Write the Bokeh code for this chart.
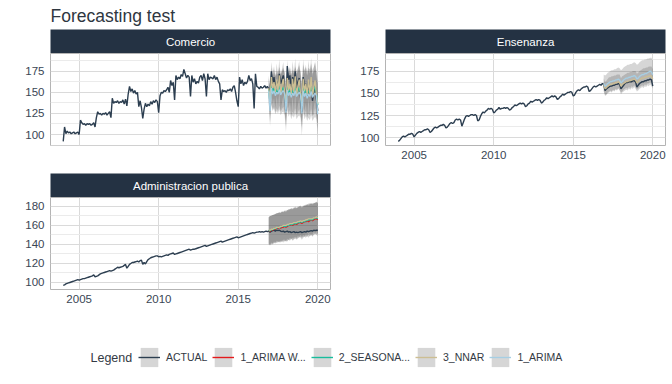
import numpy as np
import pandas as pd
from bokeh.plotting import figure
from bokeh.layouts import column, row
from bokeh.models import Range1d, Label, FixedTicker, Legend, LegendItem
from bokeh.embed import file_html
from bokeh.resources import INLINE

FONT = "Liberation Sans"
TITLE = "Forecasting test"
STRIP_COLOR = "#243243"
TEXT_COLOR = "#3a4654"

# ---------------- data ----------------
DATES = pd.date_range("2004-01-01", "2020-01-01", freq="MS")
FC_START = "2016-12-01"

SERIES_NAMES = ["Comercio", "Ensenanza", "Administracion publica"]
LEGEND_NAMES = ["ACTUAL", "1_ARIMA W...", "2_SEASONA...", "3_NNAR", "1_ARIMA"]
COLORS = {"ACTUAL": "#2c3e50", "1_ARIMA W...": "#e31a1c", "2_SEASONA...": "#18BC9C",
          "3_NNAR": "#CCBE93", "1_ARIMA": "#a6cee3"}

X_TICKS = [2005, 2010, 2015, 2020]
Y_TICKS_COM = [100, 125, 150, 175]
Y_TICKS_ENS = [100, 125, 150, 175]
Y_TICKS_ADM = [100, 120, 140, 160, 180]

COM_ACTUAL = [
    92, 109, 101, 104, 102, 103, 101, 102, 103, 101, 102, 103,
    100, 117, 114, 112, 113, 111, 113, 112, 113, 111, 112, 114,
    109, 120, 127, 124, 125, 123, 125, 124, 126, 123, 125, 127,
    120, 143, 137, 139, 138, 140, 137, 139, 138, 141, 136, 142,
    134, 148, 157, 151, 154, 149, 152, 148, 150, 133, 140, 132,
    119, 130, 137, 133, 136, 134, 139, 136, 140, 138, 141, 139,
    126, 146, 150, 149, 152, 151, 153, 156, 150, 164, 158, 162,
    141, 170, 165, 168, 166, 171, 169, 177, 172, 167, 170, 168,
    145, 170, 162, 166, 160, 163, 161, 168, 170, 164, 172, 166,
    145, 172, 165, 168, 167, 166, 170, 165, 168, 163, 160, 141,
    153, 151, 152, 150, 153, 152, 154, 151, 156, 158, 150, 140,
    133, 168, 160, 165, 158, 162, 160, 163, 170, 164, 166, 160,
    131, 172, 157, 156, 154, 157, 155, 156, 158, 155, 157, 154,
    150, 175, 160, 168, 155, 163, 158, 172, 160, 165, 170, 152,
    128, 181, 165, 170, 150, 168, 160, 175, 155, 162, 167, 145,
    127, 168, 158, 160, 145, 162, 150, 158, 140, 150, 160, 142,
    128]

ENS_ACTUAL = [
    96, 97, 99, 101, 102, 101, 102, 103, 104, 104, 105, 104,
    101, 103, 105, 106, 107, 106, 107, 108, 109, 109, 110, 109,
    106, 107, 109, 111, 112, 111, 112, 113, 114, 114, 115, 114,
    111, 112, 114, 116, 117, 116, 117, 120, 121, 120, 121, 120,
    113, 117, 121, 124, 125, 124, 125, 126, 126, 125, 126, 125,
    119, 120, 124, 127, 129, 128, 130, 131, 133, 132, 133, 132,
    128, 129, 131, 132, 134, 132, 133, 133, 134, 133, 134, 133,
    131, 132, 134, 135, 137, 136, 137, 138, 139, 138, 139, 138,
    135, 136, 138, 139, 141, 140, 141, 142, 143, 142, 143, 142,
    139, 140, 142, 143, 145, 144, 145, 146, 147, 146, 147, 146,
    143, 144, 146, 147, 149, 148, 149, 150, 151, 151, 152, 151,
    147, 148, 151, 153, 154, 153, 155, 156, 157, 157, 158, 157,
    152, 153, 155, 157, 158, 157, 158, 159, 160, 159, 161, 160,
    153, 155, 156, 157, 158, 158, 159, 159, 160, 160, 161, 160,
    155, 157, 159, 161, 162, 162, 163, 163, 163, 164, 164, 163,
    157, 159, 161, 162, 163, 163, 164, 164, 165, 165, 166, 165,
    158]

ADM_ACTUAL = [
    97, 97.5, 98.5, 99, 99.5, 100, 100.5, 101, 101.5, 102, 102.5, 103,
    102.5, 103, 103.5, 104, 104, 104.5, 105, 105.5, 106, 106.5, 107, 108,
    106, 106.5, 107, 108, 109, 109.5, 110, 110.5, 111, 111.5, 112, 112.5,
    112, 112.5, 113, 114, 115, 116, 115.5, 116, 116.5, 117, 118, 119,
    115, 117, 119, 120, 121, 121, 121.5, 122, 122.5, 121.5, 123, 123.5,
    119, 121, 119.5, 122, 124, 125, 126, 126.5, 127, 127.5, 128, 128,
    127, 127.5, 127, 127.5, 128, 128.5, 129, 128.5, 129.5, 130, 130.5, 131,
    129.5, 130, 130.5, 131, 131.5, 132, 132.5, 133, 133.5, 134, 134.5, 135,
    134, 134.5, 135, 135, 135.5, 136, 136.5, 137, 137.5, 138, 138.5, 139,
    138, 138.5, 139, 139.5, 140, 140.5, 141, 141.5, 142, 142.5, 143, 143.5,
    142.5, 143, 143.5, 144, 144.5, 145, 145.5, 146, 146.5, 147, 147.5, 148,
    147, 147.5, 148, 148.5, 149, 149.5, 150, 150.5, 151, 151.5, 152, 152.5,
    152, 152.5, 153, 153, 153.5, 153, 153.5, 153, 153.5, 154, 153.5, 154,
    153, 154, 154.5, 155, 154, 155, 154.5, 155, 154, 153.5, 154, 153,
    153.5, 154, 153, 153.5, 152.5, 153, 153.5, 152.5, 153, 152.5, 153, 153.5,
    152.5, 153, 153.5, 153, 154, 153.5, 154, 154.5, 154, 155, 154.5, 155,
    155]

# forecasts: Dec 2016 .. Jan 2020 (38 months)
COM_SEAS = [154, 136, 158, 150, 155, 148, 153, 151, 157, 150, 153, 156, 150,
            135, 157, 149, 154, 147, 152, 150, 156, 149, 152, 156, 149,
            134, 157, 149, 154, 147, 152, 150, 157, 149, 152, 158, 148, 135]
COM_SEAS_LO = [138, 114, 137, 129, 133, 126, 131, 128, 134, 127, 130, 133, 126,
               110, 133, 125, 129, 122, 127, 125, 131, 123, 126, 130, 123,
               108, 131, 122, 128, 120, 125, 123, 130, 122, 124, 131, 120, 107]
COM_SEAS_HI = [170, 158, 179, 171, 177, 170, 175, 174, 180, 173, 176, 179, 174,
               160, 181, 173, 179, 172, 177, 175, 181, 175, 178, 182, 175,
               160, 183, 176, 180, 174, 179, 177, 184, 176, 180, 185, 176, 163]
COM_NNAR = [155, 140, 168, 155, 162, 150, 165, 152, 170, 148, 158, 166, 150,
            138, 167, 152, 160, 148, 166, 150, 169, 146, 157, 165, 148,
            137, 166, 151, 160, 147, 165, 149, 168, 145, 156, 164, 147, 136]
COM_NNAR_LO = [143, 122, 150, 136, 143, 131, 146, 133, 151, 128, 138, 146, 130,
               117, 146, 131, 139, 127, 145, 128, 148, 124, 135, 143, 126,
               114, 143, 128, 137, 124, 142, 126, 145, 122, 133, 141, 124, 112]
COM_NNAR_HI = [167, 158, 186, 174, 181, 169, 184, 171, 189, 168, 178, 186, 170,
               159, 188, 173, 181, 169, 187, 172, 190, 168, 179, 187, 170,
               160, 189, 174, 183, 170, 188, 172, 191, 168, 179, 187, 170, 160]
COM_ARIMA = [152, 128, 155, 148, 152, 146, 150, 148, 153, 147, 150, 152, 148,
             126, 153, 146, 150, 144, 149, 146, 152, 145, 148, 150, 147,
             125, 152, 145, 149, 143, 148, 145, 151, 144, 147, 149, 146, 124]
COM_ARIMA_LO = [138, 110, 136, 128, 131, 124, 128, 125, 130, 123, 126, 127, 123,
                103, 129, 121, 125, 118, 123, 120, 125, 118, 121, 123, 120,
                99, 126, 118, 122, 116, 120, 117, 123, 116, 119, 121, 118, 97]
COM_ARIMA_HI = [166, 146, 174, 168, 173, 168, 172, 171, 176, 171, 174, 177, 173,
                149, 177, 171, 175, 170, 175, 172, 179, 172, 175, 177, 174,
                151, 178, 172, 176, 170, 176, 173, 179, 172, 175, 177, 174, 151]

ENS_NNAR = [160, 155, 156, 158, 159, 160, 160, 161, 161, 162, 162, 163, 162,
            158, 160, 161, 162, 163, 163, 164, 164, 165, 165, 166, 165,
            162, 163, 165, 166, 167, 167, 168, 168, 169, 169, 170, 169, 166]
ENS_NNAR_LO = [153, 147, 148, 150, 151, 152, 151, 153, 152, 154, 153, 155, 153,
               149, 151, 152, 153, 154, 153, 155, 154, 156, 155, 157, 155,
               152, 153, 155, 156, 157, 156, 158, 157, 159, 158, 160, 158, 155]
ENS_NNAR_HI = [167, 163, 164, 166, 168, 168, 169, 169, 170, 170, 171, 171, 171,
               167, 169, 170, 171, 172, 173, 173, 174, 174, 175, 175, 175,
               172, 173, 175, 176, 177, 178, 178, 179, 179, 180, 180, 180, 177]
ENS_ARIMA = [161, 158, 159, 161, 162, 163, 163, 164, 164, 165, 165, 166, 165,
             162, 163, 165, 166, 167, 167, 168, 168, 169, 169, 170, 169,
             166, 167, 169, 170, 171, 171, 172, 172, 173, 174, 175, 174, 171]
ENS_ARIMA_LO = [152, 148, 149, 151, 152, 153, 152, 154, 153, 155, 154, 156, 154,
                151, 152, 154, 155, 156, 155, 157, 156, 158, 157, 159, 157,
                154, 155, 157, 158, 159, 158, 160, 159, 161, 161, 163, 161, 158]
ENS_ARIMA_HI = [171, 170, 171, 173, 174, 175, 176, 176, 177, 177, 178, 179, 178,
                176, 177, 179, 180, 181, 182, 182, 183, 183, 184, 185, 184,
                182, 183, 185, 186, 187, 187, 188, 188, 189, 189, 190, 190, 187]

ADM_ARIMAW = [154, 154, 155, 155, 156, 156, 157, 157, 158, 157, 158, 158, 159,
              158, 159, 160, 160, 161, 160, 161, 162, 161, 162, 163, 163,
              162, 163, 164, 164, 165, 164, 165, 166, 165, 166, 167, 167, 166]
ADM_ARIMAW_LO = [140, 139, 141, 140, 142, 141, 142, 142, 143, 142, 143, 142, 144,
                 143, 143, 145, 144, 146, 144, 145, 147, 145, 146, 148, 147,
                 145, 147, 148, 147, 149, 147, 149, 150, 148, 150, 151, 150, 149]
ADM_ARIMAW_HI = [169, 170, 170, 171, 171, 172, 173, 173, 174, 173, 175, 174, 176,
                 175, 176, 177, 177, 178, 177, 178, 180, 178, 179, 180, 180,
                 179, 180, 181, 181, 182, 181, 182, 183, 182, 183, 184, 184, 183]
ADM_SEAS = [154, 155, 155, 156, 156, 157, 157, 158, 158, 158, 159, 159, 159,
            159, 160, 160, 161, 161, 161, 162, 162, 162, 163, 163, 164,
            163, 164, 164, 165, 165, 166, 166, 166, 166, 167, 168, 168, 167]
ADM_SEAS_LO = [140, 140, 140, 141, 141, 142, 142, 143, 142, 143, 143, 144, 143,
               144, 144, 145, 145, 146, 145, 146, 146, 146, 147, 147, 148,
               147, 148, 148, 149, 148, 150, 149, 150, 149, 151, 151, 151, 150]
ADM_SEAS_HI = [168, 170, 170, 171, 171, 172, 172, 173, 174, 173, 175, 174, 175,
               174, 176, 176, 177, 177, 177, 178, 178, 178, 179, 180, 180,
               179, 180, 181, 181, 182, 182, 183, 183, 183, 183, 184, 185, 184]
ADM_NNAR = [155, 155, 156, 156, 157, 157, 158, 158, 158, 159, 159, 160, 160,
            160, 161, 161, 162, 162, 162, 163, 163, 163, 164, 164, 165,
            164, 165, 165, 166, 166, 167, 167, 167, 167, 168, 168, 169, 168]
ADM_NNAR_LO = [141, 140, 142, 141, 143, 142, 144, 143, 143, 144, 144, 145, 145,
               144, 146, 145, 147, 146, 147, 147, 148, 147, 149, 148, 150,
               148, 150, 149, 151, 150, 152, 151, 151, 151, 153, 152, 153, 152]
ADM_NNAR_HI = [169, 170, 171, 171, 172, 172, 173, 173, 173, 174, 174, 175, 175,
               176, 176, 177, 177, 178, 178, 179, 179, 179, 180, 180, 181,
               180, 181, 181, 182, 182, 183, 183, 183, 183, 184, 184, 185, 184]

PANELS = {
    "Comercio": dict(actual=COM_ACTUAL, yticks=Y_TICKS_COM, models=[
        ("2_SEASONA...", COM_SEAS, COM_SEAS_LO, COM_SEAS_HI),
        ("3_NNAR", COM_NNAR, COM_NNAR_LO, COM_NNAR_HI),
        ("1_ARIMA", COM_ARIMA, COM_ARIMA_LO, COM_ARIMA_HI)]),
    "Ensenanza": dict(actual=ENS_ACTUAL, yticks=Y_TICKS_ENS, models=[
        ("3_NNAR", ENS_NNAR, ENS_NNAR_LO, ENS_NNAR_HI),
        ("1_ARIMA", ENS_ARIMA, ENS_ARIMA_LO, ENS_ARIMA_HI)]),
    "Administracion publica": dict(actual=ADM_ACTUAL, yticks=Y_TICKS_ADM, models=[
        ("1_ARIMA W...", ADM_ARIMAW, ADM_ARIMAW_LO, ADM_ARIMAW_HI),
        ("2_SEASONA...", ADM_SEAS, ADM_SEAS_LO, ADM_SEAS_HI),
        ("3_NNAR", ADM_NNAR, ADM_NNAR_LO, ADM_NNAR_HI)]),
}

# ---------------- helpers ----------------
X_ALL = np.array([d.year + (d.month - 1) / 12 for d in DATES])
X_FC = X_ALL[DATES >= pd.Timestamp(FC_START)]

FRAME_W = 280
PANEL_H = 120
STRIP_H = 24


def strip_fig(text, left, right):
    s = figure(width=left + FRAME_W + right, height=STRIP_H,
               x_range=Range1d(0, 1), y_range=Range1d(0, 1),
               x_axis_location=None, y_axis_location=None,
               toolbar_location=None, output_backend="svg",
               min_border_left=left, min_border_right=right,
               min_border_top=0, min_border_bottom=0)
    s.grid.visible = False
    s.background_fill_color = STRIP_COLOR
    s.border_fill_color = "white"
    s.outline_line_color = None
    s.add_layout(Label(x=0.5, y=0.5, text=text, text_align="center",
                       text_baseline="middle", text_color="white",
                       text_font=FONT, text_font_size="11.5px"))
    return s


def panel_fig(name, left, right, show_x):
    cfg = PANELS[name]
    actual = cfg["actual"]
    allv = list(actual)
    for _, f, lo, hi in cfg["models"]:
        allv += list(f) + list(lo) + list(hi)
    vmin, vmax = min(allv), max(allv)
    pad = 0.05 * (vmax - vmin)
    xmin, xmax = X_ALL.min(), X_ALL.max()
    xpad = 0.05 * (xmax - xmin)
    p = figure(width=left + FRAME_W + right, height=PANEL_H,
               x_range=Range1d(xmin - xpad, xmax + xpad),
               y_range=Range1d(vmin - pad, vmax + pad),
               toolbar_location=None, output_backend="svg",
               min_border_left=left, min_border_right=right,
               min_border_top=0, min_border_bottom=28)
    p.background_fill_color = "white"
    p.outline_line_color = "#b4b4b4"
    p.outline_line_width = 1

    yt = cfg["yticks"]
    step = yt[1] - yt[0]
    minors = [t - step / 2 for t in yt] + [yt[-1] + step / 2]
    yticker = FixedTicker(ticks=yt, minor_ticks=minors)
    xticker = FixedTicker(ticks=X_TICKS)
    p.yaxis.ticker = yticker
    p.xaxis.ticker = xticker
    p.ygrid.ticker = yticker
    p.xgrid.ticker = xticker
    p.ygrid.grid_line_color = "#dadada"
    p.ygrid.minor_grid_line_color = "#ebebeb"
    p.xgrid.grid_line_color = "#dadada"

    for ax in (p.xaxis[0], p.yaxis[0]):
        ax.axis_line_color = None
        ax.major_tick_line_color = None
        ax.minor_tick_line_color = None
        ax.major_tick_out = 0
        ax.major_tick_in = 0
        ax.minor_tick_out = 0
        ax.minor_tick_in = 0
        ax.major_label_text_font = FONT
        ax.major_label_text_font_size = "11.5px"
        ax.major_label_text_color = TEXT_COLOR
    p.yaxis.major_label_standoff = 6
    p.xaxis.major_label_standoff = 5
    if not show_x:
        p.xaxis.visible = False

    for mname, f, lo, hi in cfg["models"]:
        p.varea(x=X_FC, y1=lo, y2=hi, fill_color="#333333", fill_alpha=0.2)
    p.line(x=X_ALL, y=actual, line_color=COLORS["ACTUAL"], line_width=1.4)
    for mname, f, lo, hi in cfg["models"]:
        p.line(x=X_FC, y=f, line_color=COLORS[mname], line_width=1.3)
    return p


# ---------------- layout ----------------
TOTAL_W = 672
HEAD_H = 29
header = figure(width=TOTAL_W, height=HEAD_H, x_range=Range1d(0, TOTAL_W), y_range=Range1d(0, HEAD_H),
                x_axis_location=None, y_axis_location=None, toolbar_location=None,
                output_backend="svg", min_border=0, min_border_left=0, min_border_right=0,
                min_border_top=0, min_border_bottom=0)
header.grid.visible = False
header.outline_line_color = None
header.add_layout(Label(x=50, y=24, text=TITLE, text_font=FONT, text_font_size="17.5px",
                        text_color="#2e3640", text_baseline="top"))

s1 = strip_fig(SERIES_NAMES[0], 50, 15)
p1 = panel_fig(SERIES_NAMES[0], 50, 15, False)
s2 = strip_fig(SERIES_NAMES[1], 40, 7)
p2 = panel_fig(SERIES_NAMES[1], 40, 7, True)
s3 = strip_fig(SERIES_NAMES[2], 50, 15)
p3 = panel_fig(SERIES_NAMES[2], 50, 15, True)

LEG_H = 67
lf = figure(width=TOTAL_W, height=LEG_H, x_range=Range1d(0, TOTAL_W), y_range=Range1d(0, LEG_H),
            x_axis_location=None, y_axis_location=None, toolbar_location=None,
            output_backend="svg", min_border=0, min_border_left=0, min_border_right=0,
            min_border_top=0, min_border_bottom=0)
lf.grid.visible = False
lf.outline_line_color = None
items = []
for name in LEGEND_NAMES:
    key = lf.quad(left=[np.nan], right=[np.nan], top=[np.nan], bottom=[np.nan],
                  fill_color="#333333", fill_alpha=0.2, line_color=None)
    ln = lf.line(x=[np.nan, np.nan], y=[np.nan, np.nan], line_color=COLORS[name], line_width=1.4)
    items.append(LegendItem(label=name, renderers=[key, ln]))
leg = Legend(items=items, orientation="horizontal", location=(138, 15),
             glyph_width=22, glyph_height=24, label_standoff=6, spacing=5,
             padding=0, margin=0, border_line_color=None, background_fill_alpha=0,
             label_text_font=FONT, label_text_font_size="10.5px",
             label_text_color="#333a44")
lf.add_layout(leg)
lf.add_layout(Label(x=90, y=27, text="Legend", text_font=FONT, text_font_size="12.5px",
                    text_color="#333a44", text_baseline="middle"))

layout = column(header,
                row(column(s1, p1), column(s2, p2)),
                column(s3, p3),
                lf)

open("out.html", "w").write(file_html(layout, INLINE))
